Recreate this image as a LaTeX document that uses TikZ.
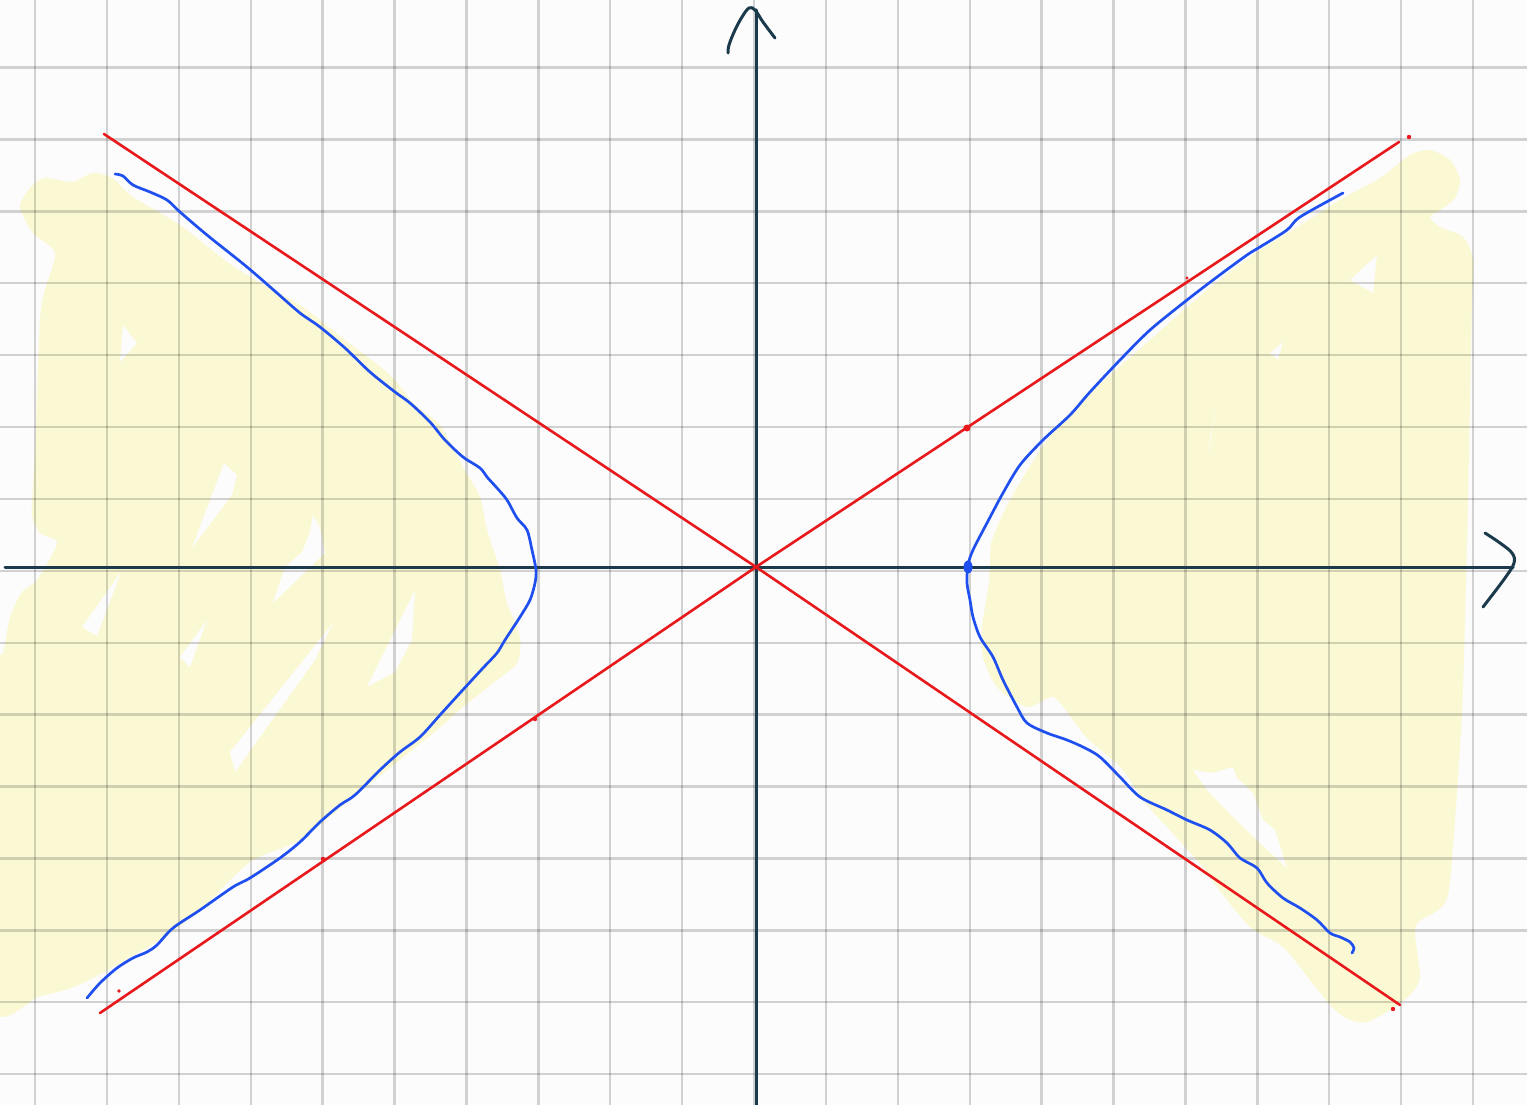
\documentclass[tikz,border=0pt]{standalone}
\usetikzlibrary{calc}
\definecolor{bgc}{HTML}{FCFCFC}
\definecolor{shadec}{HTML}{FBF9D3}
\definecolor{axisc}{HTML}{1B3A4B}
\definecolor{asymc}{HTML}{E8191C}
\definecolor{branchc}{HTML}{1F4FEF}
\tikzset{
  gridline/.style={line width=2.4pt, black, opacity=0.17},
  axisline/.style={line width=3pt, axisc, line cap=round, line join=round},
  asymline/.style={line width=2.6pt, asymc, line cap=round},
  branchline/.style={line width=2.7pt, branchc, line cap=round, line join=round},
  shadearea/.style={fill=shadec},
  gaparea/.style={fill=bgc},
  reddot/.style={fill=asymc}
}
\begin{document}
\begin{tikzpicture}[x=1pt,y=-1pt]
\useasboundingbox (0,0) rectangle (1527,1105);
\fill[bgc] (0,0) rectangle (1527,1105);
\begin{scope}
\clip (0,0) rectangle (1527,1105);
% left shaded region
\fill[shadearea] plot[smooth cycle, tension=0.45] coordinates {
(20,207) (30,188) (45,178) (72,182) (93,173) (112,178) (133,197) (180,225) (227,262)
(260,283) (300,305) (345,340) (390,375) (415,405) (440,425) (463,467) (480,497)
(487,530) (500,570) (507,603) (520,637) (517,663) (493,683) (463,707) (437,730)
(400,760) (350,800) (300,840) (250,862) (200,910) (160,940) (83,983) (40,996)
(-10,1000) (-10,680) (3,653) (10,617) (22,592) (37,580) (57,543) (40,533) (32,513)
(35,450) (40,320) (45,290) (55,253) (33,233)};
% right shaded region
\fill[shadearea] plot[smooth cycle, tension=0.45] coordinates {
(1410,155) (1430,150) (1450,160) (1460,180) (1455,198) (1440,210) (1430,217) (1440,227)
(1463,237) (1473,260) (1472,300) (1470,400) (1468,500) (1465,620) (1462,713)
(1455,820) (1448,895) (1435,912) (1418,922) (1415,935) (1420,977) (1410,995)
(1390,1010) (1367,1022) (1350,1020) (1333,1008) (1310,980) (1283,947) (1250,927)
(1217,887) (1203,867) (1167,827) (1147,805) (1120,767) (1087,738) (1070,716)
(1053,697) (1027,707) (997,687) (983,657) (982,627) (988,590) (990,567) (992,540)
(1010,500) (1040,450) (1060,425) (1085,398) (1110,375) (1150,340) (1187,307)
(1217,282) (1257,252) (1293,230) (1340,200) (1380,178)};
% gaps in the shading
\fill[gaparea] (123,325) -- (137,343) -- (120,362) -- cycle;
\fill[gaparea] (224,463) -- (237,475) -- (232,495) -- (192,548) -- cycle;
\fill[gaparea] (313,515) -- (320,527) -- (325,553) -- (273,603) -- (285,567) -- (302,552) -- (310,532) -- cycle;
\fill[gaparea] (121,572) -- (82,627) -- (97,636) -- cycle;
\fill[gaparea] (207,620) -- (180,657) -- (190,667) -- cycle;
\fill[gaparea] (333,623) -- (230,752) -- (235,772) -- (315,660) -- cycle;
\fill[gaparea] (415,590) -- (367,687) -- (395,672) -- (412,640) -- cycle;
\fill[gaparea] (1377,255) -- (1350,280) -- (1373,293) -- cycle;
\fill[gaparea] (1283,342) -- (1270,353) -- (1278,360) -- cycle;
\fill[gaparea] (1217,403) -- (1207,457) -- (1211,440) -- cycle;
\fill[gaparea] (1193,770) -- (1213,773) -- (1233,767) -- (1237,778) -- (1253,793) -- (1263,820) -- (1275,830) -- (1287,868) -- (1260,843) -- (1233,817) -- (1207,790) -- cycle;
% grid
\foreach \k in {0,...,20} {
  \draw[gridline] ({35+71.9*\k},0) -- ({35+71.9*\k},1105);
}
\foreach \k in {0,...,14} {
  \draw[gridline] (0,{67.5+71.9*\k}) -- (1527,{67.5+71.9*\k});
}
\end{scope}
% named coordinates
\coordinate (O) at (756,567);
\coordinate (A1) at (104,134);
\coordinate (A2) at (1400,1005);
\coordinate (B1) at (100,1013);
\coordinate (B2) at (1399,142);
\coordinate (XL) at (5,567);
\coordinate (XR) at (1513,567);
\coordinate (YB) at (756,1105);
\coordinate (YT) at (756,10);
% axes
\draw[axisline] (XL) -- (XR);
\draw[axisline] (YB) -- (YT);
\draw[axisline] plot[smooth, tension=0.6] coordinates {(1485,533) (1500,543) (1512,553) (1514,563) (1505,578) (1483,607)};
\draw[axisline] plot[smooth, tension=0.6] coordinates {(728,53) (729,45) (735,30) (742,17) (749,8) (755,10) (763,22) (775,38)};
% asymptotes
\draw[asymline] (A1) -- (O) -- (A2);
\draw[asymline] (B1) -- (O) -- (B2);
% red dots
\fill[reddot] (1409,137) circle (2.2);
\fill[reddot] (1393,1009) circle (2.2);
\fill[reddot] (119,991) circle (1.8);
\fill[reddot] (967,428) circle (3.5);
\fill[reddot] (1187,278) circle (1.6);
\fill[reddot] (535,719) circle (2.2);
\fill[reddot] (323,859) circle (2.2);
% hyperbola branches
\draw[branchline] plot[smooth, tension=0.5] coordinates {
(115,174) (123,176) (133,185) (150,192) (167,200) (180,212) (207,235) (247,267)
(277,293) (300,313) (320,327) (345,348) (370,372) (395,392) (410,403) (430,422)
(445,440) (463,457) (480,468) (487,477) (497,488) (507,500) (517,518) (527,530)
(532,550) (536,570) (535,583) (530,600) (520,617) (505,640) (497,653) (483,668)
(460,693) (440,715) (420,737) (400,752) (380,770) (355,795) (340,805) (320,822)
(300,842) (280,858) (250,878) (233,887) (200,910) (173,928) (157,945) (147,952)
(133,958) (117,968) (100,983) (87,998)};
\draw[branchline] plot[smooth, tension=0.5] coordinates {
(1343,193) (1300,217) (1287,230) (1260,247) (1247,255) (1217,277) (1187,300)
(1150,330) (1120,360) (1090,392) (1070,415) (1043,440) (1020,465) (1003,493)
(987,523) (973,550) (968,565) (967,583) (970,600) (973,617) (980,637) (993,657)
(1003,680) (1017,707) (1027,723) (1047,733) (1067,740) (1085,748) (1100,757)
(1120,777) (1140,797) (1167,810) (1187,820) (1210,830) (1227,843) (1240,858)
(1257,868) (1267,883) (1283,898) (1300,908) (1317,920) (1330,933) (1340,937)
(1350,942) (1354,948) (1352,953)};
\coordinate (V) at (968,567);
\fill[branchc] (V) ellipse (4.5 and 6.5);
\end{tikzpicture}
\end{document}
